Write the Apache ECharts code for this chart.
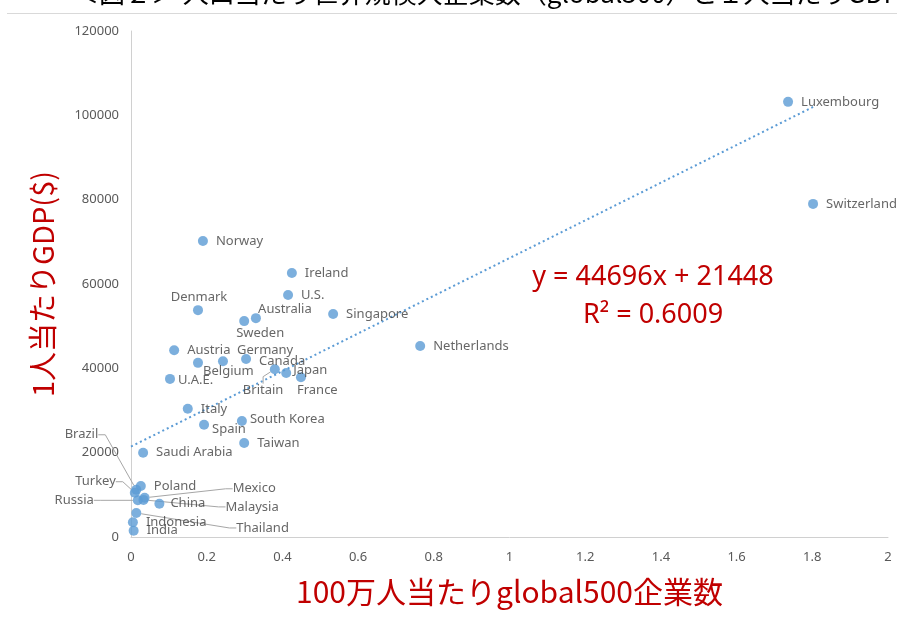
<!DOCTYPE html>
<html><head><meta charset="utf-8">
<script src="https://cdn.jsdelivr.net/npm/echarts@6/dist/echarts.min.js"></script>
<style>html,body{margin:0;padding:0;background:#fff}#c{width:897px;height:623px}</style>
</head><body><div id="c"></div>
<script>
const countries = ['Luxembourg','Switzerland','Norway','Ireland','U.S.','Denmark','Singapore','Australia','Sweden','Netherlands','Austria','Germany','Belgium','Canada','Japan','France','Britain','U.A.E.','Italy','Spain','South Korea','Taiwan','Saudi Arabia','Poland','Brazil','Turkey','Russia','Mexico','Malaysia','China','Thailand','Indonesia','India'];
const companiesPerMillion = [1.736,1.802,0.190,0.425,0.415,0.177,0.534,0.330,0.299,0.764,0.114,0.243,0.177,0.304,0.410,0.449,0.380,0.103,0.150,0.193,0.293,0.299,0.032,0.026,0.014,0.010,0.018,0.036,0.033,0.075,0.014,0.005,0.007];
const gdpPerCapita = [103200,79000,70200,62600,57400,53800,52900,51900,51200,45300,44300,41700,41300,42200,38900,37900,39800,37500,30400,26600,27500,22300,20000,12100,11200,10500,8700,9300,8800,7900,5700,3500,1500];
const xTicks = [0,0.2,0.4,0.6,0.8,1,1.2,1.4,1.6,1.8,2];
const yTicks = [0,20000,40000,60000,80000,100000,120000];
const trendSlope = 44696;
const trendIntercept = 21448;
const equationText = 'y = 44696x + 21448';
const r2Text = 'R² = 0.6009';
const xTitle = '100万人当たりglobal500企業数';
const yTitle = '1人当たりGDP($)';
const chartTitle = '＜図２＞ 人口当たり世界規模大企業数（global500）と１人当たりGDPの関係';

// label placement (pixel offsets from point centre) – layout only
const labelPlace = {
  'Denmark':[1,-13,'center'], 'Australia':[29,-9,'center'], 'Sweden':[16,12,'center'],
  'Germany':[14,-11,'left'], 'Belgium':[5,8,'left'], 'Canada':[13,2,'left'],
  'Japan':[7,-3,'left'], 'France':[-4,13,'left'], 'Britain':[-32,21,'left'],
  'U.A.E.':[8,1,'left'], 'Spain':[8,4,'left'], 'South Korea':[8,-2,'left'],
  'China':[11,0,'left'],
  'Brazil':[-38,-55,'right'], 'Turkey':[-19,-11,'right'], 'Russia':[-44,0,'right'],
  'Mexico':[88,-9,'left'], 'Malaysia':[82,7,'left'], 'Thailand':[100,15,'left']
};
const leaders = ['Britain','Brazil','Turkey','Russia','Mexico','Malaysia','Thailand'];

const pts = countries.map((n,i)=>{
  const o = {name:n, value:[companiesPerMillion[i], gdpPerCapita[i]]};
  if (leaders.indexOf(n) >= 0) {
    o.labelLine = {show:true, length2:7, lineStyle:{color:'#A6A6A6', width:1}};
  }
  return o;
});
const xMaxData = Math.max(...companiesPerMillion);
const trend = [[0, trendIntercept], [xMaxData, trendSlope*xMaxData + trendIntercept]];

const chart = echarts.init(document.getElementById('c'));
chart.setOption({
  animation:false,
  backgroundColor:'#fff',
  grid:{left:131, right:9, top:31, bottom:86, containLabel:false, outerBoundsMode:'none'},
  xAxis:{type:'value', min:xTicks[0], max:xTicks[xTicks.length-1], interval:0.2,
    axisLine:{show:true, lineStyle:{color:'#D0D0D0', width:1}}, axisTick:{show:false}, splitLine:{show:false},
    axisLabel:{color:'#595959', fontSize:13, fontFamily:'Noto Sans', margin:14},
    name:xTitle, nameLocation:'middle', nameGap:40,
    nameTextStyle:{color:'#C00000', fontSize:30, fontFamily:'Noto Sans CJK JP'}},
  yAxis:{type:'value', min:yTicks[0], max:yTicks[yTicks.length-1], interval:20000,
    axisLine:{show:true, lineStyle:{color:'#D0D0D0', width:1}}, axisTick:{show:false}, splitLine:{show:false},
    axisLabel:{color:'#595959', fontSize:13, fontFamily:'Noto Sans', margin:12, formatter:function(v){return String(v);}},
    name:yTitle, nameLocation:'middle', nameGap:74, nameRotate:90,
    nameTextStyle:{color:'#C00000', fontSize:29, fontFamily:'Noto Sans CJK JP'}},
  series:[
    {type:'line', data:trend, symbol:'none', silent:true, z:1,
      lineStyle:{color:'#5B9BD5', width:2, type:[2,3]}},
    {type:'scatter', data:pts, symbolSize:10, z:3,
      itemStyle:{color:'#5B9BD5'},
      label:{show:true, formatter:'{b}', color:'#404040', fontSize:13, fontFamily:'Noto Sans', position:'right'},
      labelLine:{show:false},
      labelLayout:function(p){
        const n = countries[p.dataIndex];
        const pl = labelPlace[n] || [13,0,'left'];
        const cx = p.rect.x + p.rect.width/2, cy = p.rect.y + p.rect.height/2;
        return {x:cx+pl[0], y:cy+pl[1], align:pl[2], verticalAlign:'middle'};
      }
    }
  ],
  graphic:[
    {type:'text', x:73, y:6, style:{text:chartTitle, fill:'#000', font:'26px "Noto Sans CJK JP"', align:'left', verticalAlign:'bottom'}},
    {type:'line', shape:{x1:7,y1:13.5,x2:897,y2:13.5}, style:{stroke:'#D9D9D9', lineWidth:1}},
    {type:'text', x:653, y:277, style:{text:equationText, fill:'#C00000', font:'27px "Noto Sans"', align:'center', verticalAlign:'middle'}},
    {type:'text', x:653, y:315, style:{text:r2Text, fill:'#C00000', font:'27px "Noto Sans"', align:'center', verticalAlign:'middle'}}
  ]
});
</script></body></html>
